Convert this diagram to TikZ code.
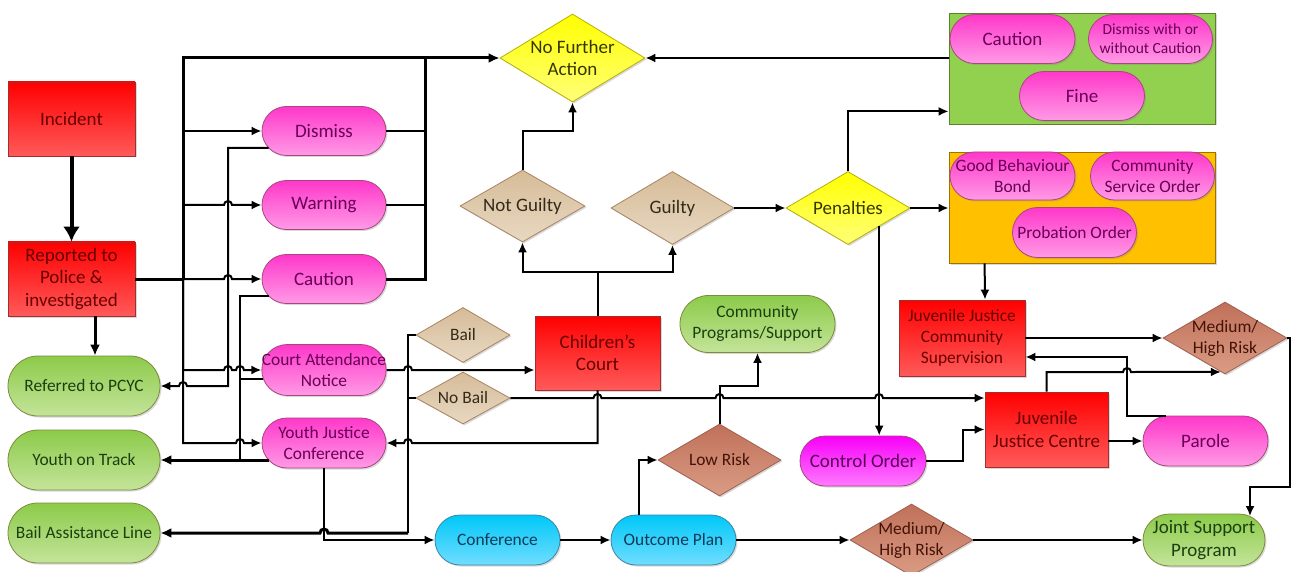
\documentclass[tikz,border=0pt]{standalone}
\usepackage{fontspec}
\setmainfont{Carlito}
\usetikzlibrary{shapes.geometric,arrows.meta,calc,shadows}
\definecolor{redT}{HTML}{FF0000}\definecolor{redL}{HTML}{FF5A5A}\definecolor{redB}{HTML}{A03030}\definecolor{redTx}{HTML}{680000}
\definecolor{pinkT}{HTML}{FF38CA}\definecolor{pinkL}{HTML}{FF9AE6}\definecolor{pinkB}{HTML}{A8467E}\definecolor{pinkTx}{HTML}{680058}
\definecolor{magT}{HTML}{F800F8}\definecolor{magL}{HTML}{FF7AFF}\definecolor{magTx}{HTML}{5A005A}
\definecolor{greenT}{HTML}{8CCB4A}\definecolor{greenL}{HTML}{C4E49A}\definecolor{greenB}{HTML}{7F8A3A}\definecolor{greenTx}{HTML}{1A4010}
\definecolor{cyanT}{HTML}{00C8F8}\definecolor{cyanL}{HTML}{70DDFF}\definecolor{cyanB}{HTML}{3A86A8}\definecolor{cyanTx}{HTML}{103A56}
\definecolor{tanT}{HTML}{D6BC98}\definecolor{tanL}{HTML}{E8D8C2}\definecolor{tanB}{HTML}{A88462}\definecolor{tanTx}{HTML}{342A1A}
\definecolor{brT}{HTML}{C0705A}\definecolor{brL}{HTML}{DA9C84}\definecolor{brB}{HTML}{A06050}\definecolor{brTx}{HTML}{441206}
\definecolor{yelT}{HTML}{FFFF00}\definecolor{yelL}{HTML}{FFFF78}\definecolor{yelB}{HTML}{B8B000}\definecolor{yelTx}{HTML}{363600}
\definecolor{gboxF}{HTML}{92D050}\definecolor{gboxB}{HTML}{5E7F2E}
\definecolor{oboxF}{HTML}{FFC000}\definecolor{oboxB}{HTML}{9A7400}
\begin{document}
\begin{tikzpicture}[x=1pt,y=1pt,
  fbig/.style={font=\fontsize{19}{22.5}\selectfont},
  fmid/.style={font=\fontsize{17.4}{21}\selectfont},
  fsml/.style={font=\fontsize{15.5}{19}\selectfont},
  sz/.style 2 args={minimum width=#1pt, minimum height=#2pt},
  psz/.style n args={3}{minimum width=#1pt, minimum height=#2pt, rounded corners=#3pt},
  shad/.style={drop shadow={shadow xshift=1.5pt,shadow yshift=-1.5pt,opacity=0.3}},
  redbox/.style={rectangle, draw=redB, line width=0.8pt, top color=redT, bottom color=redL, text=redTx, align=center, inner sep=1pt, shad},
  pill/.style={rectangle, inner sep=0pt, line width=0.8pt, align=center, shad},
  pinkpill/.style={pill, draw=pinkB, top color=pinkT, bottom color=pinkL, text=pinkTx},
  magpill/.style={pill, draw=pinkB, top color=magT, bottom color=magL, text=magTx},
  greenpill/.style={pill, draw=greenB, top color=greenT, bottom color=greenL, text=greenTx},
  cyanpill/.style={pill, draw=cyanB, top color=cyanT, bottom color=cyanL, text=cyanTx},
  diam/.style={diamond, inner sep=-12pt, line width=0.8pt, align=center, shad},
  tandiam/.style={diam, draw=tanB, top color=tanT, bottom color=tanL, text=tanTx},
  brdiam/.style={diam, draw=brB, top color=brT, bottom color=brL, text=brTx},
  yeldiam/.style={diam, draw=yelB, top color=yelT, bottom color=yelL, text=yelTx},
  groupbox/.style={rectangle, line width=0.8pt, shad},
  ln/.style={line width=2pt},
  tln/.style={line width=3pt},
  arr/.style={ln, -{Latex[length=10pt,width=9pt]}},
  tarr/.style={tln, -{Latex[length=11pt,width=10pt]}},
]
\fill[white] (0,0) rectangle (1293,-572);
\useasboundingbox (0,0) rectangle (1293,-572);

% group boxes
\node[groupbox, draw=gboxB, fill=gboxF, sz={266}{111}] (gbox) at (1082,-68.5) {};
\node[groupbox, draw=oboxB, fill=oboxF, sz={266}{111}] (obox) at (1082,-207.5) {};

% red boxes
\node[redbox,fbig,sz={127}{74}] (incident) at (71.5,-119) {Incident};
\node[redbox,fbig,sz={127}{74}] (reported) at (71.5,-279) {Reported to\\Police \&\\investigated};
\node[redbox,fbig,sz={125}{74}] (cc) at (597.5,-353) {Children’s\\Court};
\node[redbox,fmid,sz={126}{76}] (jjcs) at (962,-338) {Juvenile Justice\\Community\\Supervision};
\node[redbox,fbig,sz={123}{75}] (jjc) at (1046.5,-429.5) {Juvenile\\Justice Centre};

% pink pills
\node[pinkpill,fbig,psz={124}{49}{24.5}] (dismiss) at (324,-131) {Dismiss};
\node[pinkpill,fbig,psz={124}{49}{24.5}] (warning) at (324,-205) {Warning};
\node[pinkpill,fbig,psz={124}{49}{24.5}] (caution) at (324,-279) {Caution};
\node[pinkpill,fmid,psz={124}{51}{25.5}] (can) at (324,-370) {Court Attendance\\Notice};
\node[pinkpill,fmid,psz={124}{50}{25}] (yjc) at (324,-443) {Youth Justice\\Conference};
\node[pinkpill,fbig,psz={125}{50}{25}] (parole) at (1205.5,-441) {Parole};
\node[pinkpill,fbig,psz={125}{49}{24.5}] (cautionp) at (1012.5,-39) {Caution};
\node[pinkpill,fsml,psz={124}{49}{24.5}] (dww) at (1150.5,-39) {Dismiss with or\\without Caution};
\node[pinkpill,fbig,psz={125}{49}{24.5}] (fine) at (1082,-96) {Fine};
\node[pinkpill,fmid,psz={125}{48}{24}] (gbb) at (1012.5,-176) {Good Behaviour\\Bond};
\node[pinkpill,fmid,psz={124}{48}{24}] (cso) at (1152.5,-176) {Community\\Service Order};
\node[pinkpill,fmid,psz={124}{50}{25}] (prob) at (1074.5,-232.5) {Probation Order};
\node[magpill,fbig,psz={126}{50}{25}] (co) at (863,-461) {Control Order};

% green pills
\node[greenpill,fmid,psz={152}{60}{30}] (pcyc) at (84,-386) {Referred to PCYC};
\node[greenpill,fmid,psz={152}{60}{30}] (yot) at (84,-460) {Youth on Track};
\node[greenpill,fmid,psz={152}{60}{30}] (bal) at (84,-533) {Bail Assistance Line};
\node[greenpill,fmid,psz={155}{57}{28.5}] (cp) at (757.5,-324) {Community\\Programs/Support};
\node[greenpill,fbig,psz={122}{52}{26}] (jsp) at (1204,-540) {Joint Support\\Program};

% cyan pills
\node[cyanpill,fmid,psz={125}{50}{25}] (conf) at (497.5,-540) {Conference};
\node[cyanpill,fmid,psz={125}{50}{25}] (op) at (673.5,-540) {Outcome Plan};

% diamonds
\node[yeldiam,fbig,sz={145}{88}] (nfa) at (572.5,-58) {No Further\\Action};
\node[tandiam,fbig,sz={125}{72}] (ng) at (522.5,-206) {Not Guilty};
\node[tandiam,fbig,sz={123}{73}] (g) at (672.5,-208) {Guilty};
\node[yeldiam,fbig,sz={124}{73}] (pen) at (848,-208) {Penalties};
\node[tandiam,fmid,sz={94}{55}] (bail) at (463,-335) {Bail};
\node[tandiam,fmid,sz={94}{52}] (nobail) at (463,-398) {No Bail};
\node[brdiam,fmid,sz={123}{72}] (lr) at (719.5,-460) {Low Risk};
\node[brdiam,fmid,sz={123}{72}] (mhb) at (911.5,-540) {Medium/\\High Risk};
\node[brdiam,fmid,sz={124}{72}] (mht) at (1225,-338) {Medium/\\High Risk};

% coordinates
\coordinate (xA) at (95,0);
\coordinate (T) at (183,-279);
\coordinate (R) at (425,-58);
\coordinate (B) at (408,-533);

% connectors
\draw[line width=4pt, -{Latex[length=15pt,width=17pt]}] (incident.south) -- (reported.north);
\draw[tarr] (reported.south -| xA) -- (pcyc.north -| xA);
\draw[tln] (reported.east) -- (T);
\draw[tarr] (T) |- (nfa.west);
\draw[arr] (T) |- (dismiss.west);
\draw[arr] (T) |- (224,-205) arc[start angle=180,end angle=0,radius=4] -- (warning.west);
\draw[arr] (T) -- (224,-279) arc[start angle=180,end angle=0,radius=4] -- (caution.west);
\draw[arr] (T) |- (224,-370) arc[start angle=180,end angle=0,radius=4] -- (236,-370) arc[start angle=180,end angle=0,radius=4] -- (can.west);
\draw[arr] (T) |- (236,-443) arc[start angle=180,end angle=0,radius=4] -- (yjc.west);

\draw[ln] (dismiss.east) -- (dismiss.east -| R);
\draw[ln] (warning.east) -- (warning.east -| R);
\draw[tln] (caution.east) -| (R);

\draw[arr] ([xshift=7pt,yshift=-17pt]dismiss.west) -| (228,-386) -- (187,-386) arc[start angle=0,end angle=180,radius=4] -- (pcyc.east);
\draw[ln] ([xshift=7pt,yshift=-17pt]caution.west) -| (240,-460);
\draw[ln] ([xshift=2pt,yshift=-9pt]can.west) -| (240,-460);
\draw[tarr] ([xshift=7pt,yshift=-17pt]yjc.west) -- (yot.east);

\draw[arr] (can.east) -- (404,-370) arc[start angle=180,end angle=0,radius=4] -- (cc.west |- can.east);
\draw[ln] (bail.west) -| (B);
\draw[ln] (nobail.west) -- (408,-398);
\draw[tarr] (B) -- (328,-533) arc[start angle=0,end angle=180,radius=4] -- (bal.east);
\draw[arr] (cc.south) |- (412,-443) arc[start angle=0,end angle=180,radius=4] -- (yjc.east);
\draw[arr] (yjc.south) |- (conf.west);

\draw[arr] (cc.north) -- (597.5,-272) -| (ng.south);
\draw[arr] (cc.north) -- (597.5,-272) -| (g.south);
\draw[arr] (ng.north) |- (572.5,-131) -- (nfa.south);
\draw[arr] (g.east) -- (pen.west);
\draw[arr] (pen.north) |- ($(gbox.south west)+(0,13)$);
\draw[arr] (gbox.west |- nfa.east) -- (nfa.east);
\draw[arr] (pen.east) -- (pen.east -| obox.west);
\draw[arr] (pen.south east) -- (pen.south east |- co.north);
\draw[arr] ($(obox.south west)+(36,0)$) -- ($(jjcs.north)+(23,0)$);

\draw[arr] (nobail.east) -- (593.5,-398) arc[start angle=180,end angle=0,radius=4] -- (715.5,-398) arc[start angle=180,end angle=0,radius=4] -- (875,-398) arc[start angle=180,end angle=0,radius=4] -- (jjc.west |- nobail.east);

\draw[arr] ($(op.north)+(-35,0)$) |- (lr.west);
\draw[arr] (lr.north) |- (757.5,-386) -- (cp.south);
\draw[arr] (conf.east) -- (op.west);
\draw[arr] (op.east) -- (mhb.west);
\draw[arr] (mhb.east) -- (jsp.west);

\draw[arr] (jjcs.east) -- (mht.west);
\draw[arr] (mht.east) -- (1290,-338) -- (1290,-487) -| ([xshift=46pt,yshift=-2.5pt]jsp.north);
\draw[arr] (jjc.north) |- (1123,-372) arc[start angle=180,end angle=0,radius=4] -- (mht.263);
\draw[arr] (jjc.east |- parole.west) -- (parole.west);
\draw[arr] ([xshift=-40pt]parole.north) -| (1127,-357) -- ($(jjcs.east)+(0,-19)$);
\draw[arr] (co.east) -| (963,-429.5) -- (jjc.west);
\end{tikzpicture}
\end{document}
